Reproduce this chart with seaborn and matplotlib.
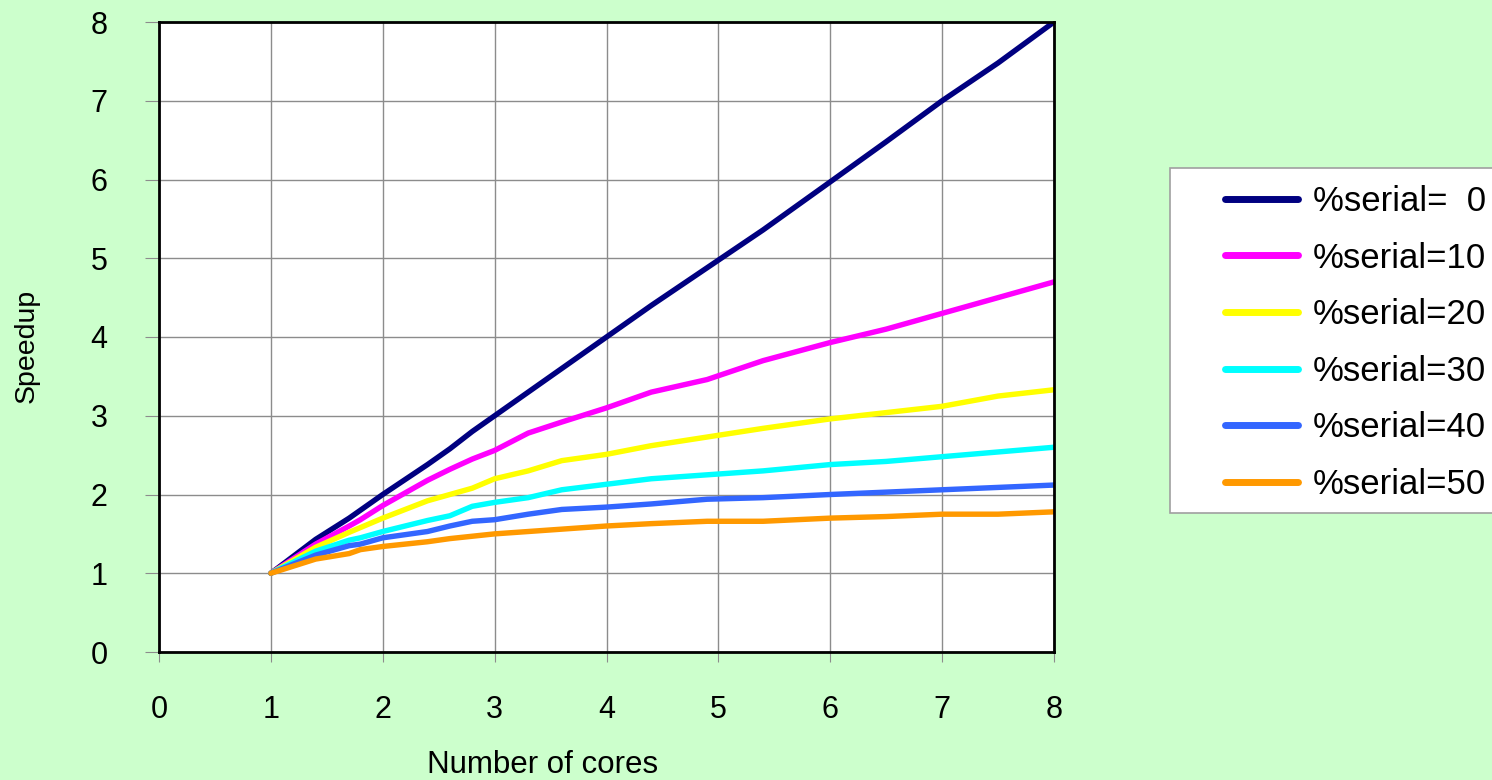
import matplotlib
matplotlib.use("Agg")
import pandas as pd
import numpy as np
import matplotlib.pyplot as plt
import seaborn as sns
from matplotlib.patches import Rectangle

# number of cores (vertices of the drawn polylines)
cores = [1, 1.4, 1.7, 1.8, 2, 2.4, 2.6, 2.8, 3, 3.3, 3.6, 4, 4.4, 4.9, 5.4, 6, 6.5, 7, 7.5, 8]

# speedup, one list per serial fraction
serial_0 = [1, 1.43, 1.7, 1.8, 2.0, 2.38, 2.58, 2.8, 3.0, 3.3, 3.6, 4.0, 4.4, 4.88, 5.36, 5.97, 6.48, 7.0, 7.48, 8.0]
serial_10 = [1, 1.37, 1.6, 1.68, 1.86, 2.18, 2.32, 2.45, 2.56, 2.78, 2.92, 3.1, 3.3, 3.46, 3.7, 3.93, 4.1, 4.3, 4.5, 4.7]
serial_20 = [1, 1.33, 1.52, 1.58, 1.7, 1.92, 2.0, 2.08, 2.2, 2.3, 2.43, 2.51, 2.62, 2.73, 2.84, 2.96, 3.04, 3.12, 3.25, 3.33]
serial_30 = [1, 1.28, 1.42, 1.45, 1.53, 1.67, 1.73, 1.85, 1.9, 1.96, 2.06, 2.13, 2.2, 2.25, 2.3, 2.38, 2.42, 2.48, 2.54, 2.6]
serial_40 = [1, 1.23, 1.35, 1.37, 1.45, 1.53, 1.6, 1.66, 1.68, 1.75, 1.81, 1.84, 1.88, 1.94, 1.96, 2.0, 2.03, 2.06, 2.09, 2.12]
serial_50 = [1, 1.18, 1.25, 1.3, 1.34, 1.4, 1.44, 1.47, 1.5, 1.53, 1.56, 1.6, 1.63, 1.66, 1.66, 1.7, 1.72, 1.75, 1.75, 1.78]

labels = ["%serial=  0", "%serial=10", "%serial=20", "%serial=30", "%serial=40", "%serial=50"]
colors = ["#000080", "#FF00FF", "#FFFF00", "#00FFFF", "#3366FF", "#FF9900"]

series = [serial_0, serial_10, serial_20, serial_30, serial_40, serial_50]
df = pd.concat(
    [pd.DataFrame({"cores": cores, "speedup": s, "serial": lab}) for s, lab in zip(series, labels)],
    ignore_index=True,
)

sns.set_style("whitegrid")
plt.rcParams["font.family"] = ["Liberation Sans", "DejaVu Sans"]
plt.rcParams["text.color"] = "black"
plt.rcParams["xtick.color"] = "black"
plt.rcParams["ytick.color"] = "black"
plt.rcParams["axes.labelcolor"] = "black"

fig = plt.figure(figsize=(14.92, 7.8), dpi=100, facecolor="#CCFFCC")
ax = fig.add_axes([159 / 1492, 1 - 652 / 780, 895 / 1492, 630 / 780])
ax.set_facecolor("white")

sns.lineplot(
    data=df, x="cores", y="speedup", hue="serial",
    hue_order=labels, palette=colors, estimator=None,
    sort=False, linewidth=3.9, ax=ax,
)

ax.set_xlim(0, 8)
ax.set_ylim(0, 8)
ax.set_xticks(range(9))
ax.set_yticks(range(9))
ax.grid(True, color="#8c8c8c", linewidth=1.0)
for sp in ax.spines.values():
    sp.set_visible(True)
    sp.set_color("black")
    sp.set_linewidth(2)

ax.tick_params(axis="y", length=10, width=0.8, color="#8c8c8c", labelcolor="black", pad=27, labelsize=22, left=True)
ax.tick_params(axis="x", length=7, width=0.8, color="#8c8c8c", labelcolor="black", pad=24, labelsize=22, bottom=True)

ax.set_xlabel("Number of cores", fontsize=22.5)
ax.set_ylabel("Speedup", fontsize=20.5)
ax.xaxis.set_label_coords(0.429, -0.156)
ax.yaxis.set_label_coords(-0.133, 0.486)

# legend box on the right
fig.patches.append(Rectangle((1170 / 1492, 1 - 513 / 780), 330 / 1492, 345 / 780,
                             transform=fig.transFigure, facecolor="white",
                             edgecolor="#a0a0a0", linewidth=1.2, zorder=-1))
handles, labs = ax.get_legend_handles_labels()
ax.get_legend().remove()
leg = fig.legend(handles, labs, loc="upper left", bbox_to_anchor=(1225 / 1492, 1 - 185 / 780),
                 bbox_transform=fig.transFigure, frameon=False, fontsize=25,
                 handlelength=2.1, handletextpad=0.43, labelspacing=0.68, borderpad=0, borderaxespad=0)
leg.set_zorder(5)
for line in leg.get_lines():
    line.set_linewidth(5)

fig.savefig("out.png", dpi=100, facecolor=fig.get_facecolor())
